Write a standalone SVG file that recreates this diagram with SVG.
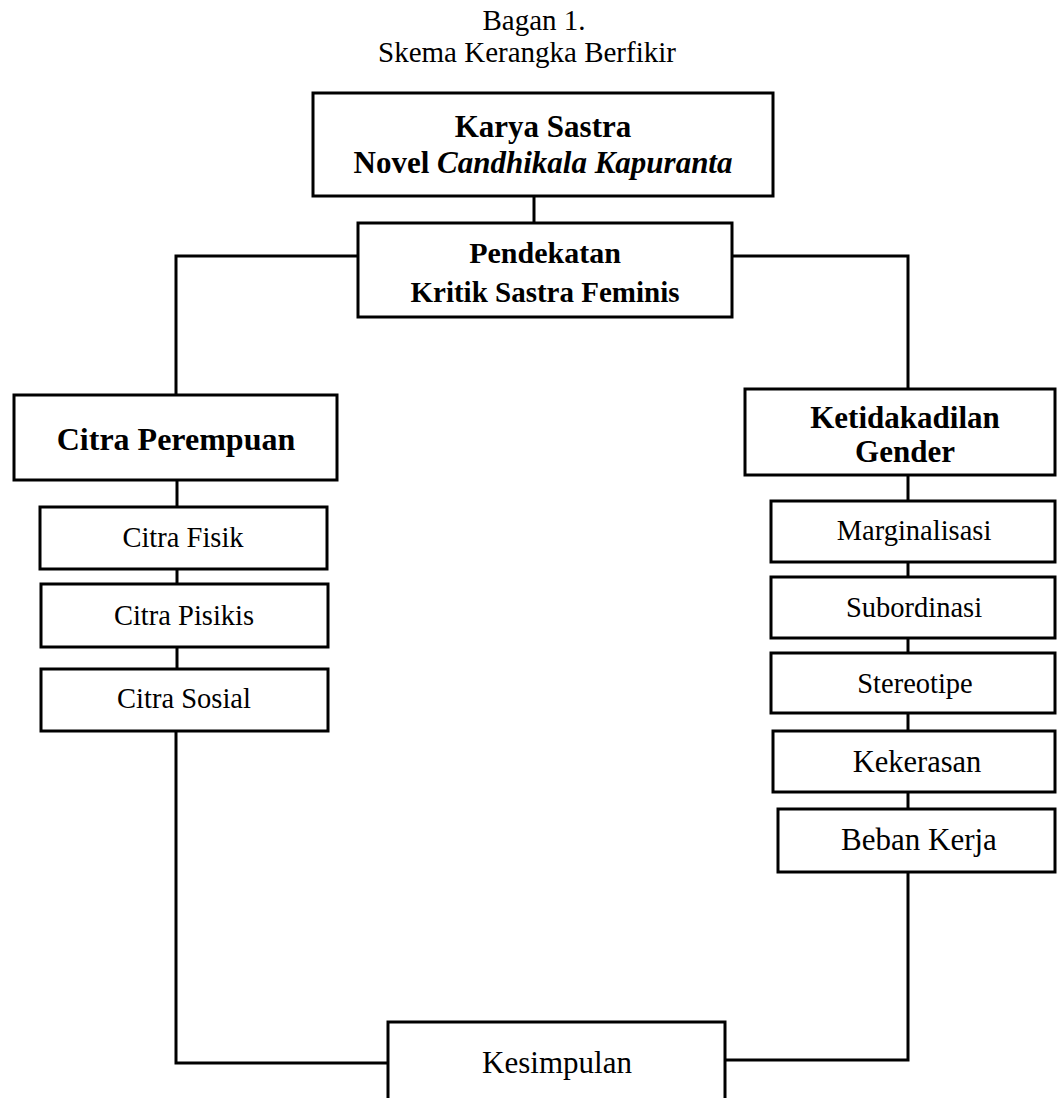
<svg xmlns="http://www.w3.org/2000/svg" width="1057" height="1098" viewBox="0 0 1057 1098">
<style>
.box{fill:#fff;stroke:#000;stroke-width:3}
.con{fill:none;stroke:#000;stroke-width:3}
text{font-family:"Liberation Serif","Times New Roman",serif;fill:#000;text-anchor:middle}
.b{font-weight:bold}
.t{font-size:29px}
.r{font-size:28.5px}
</style>
<rect width="1057" height="1098" fill="#fff"/>
<g id="title">
<text class="t" x="534" y="30">Bagan 1.</text>
<text class="t" x="527" y="62">Skema Kerangka Berfikir</text>
</g>
<g id="connectors">
<line class="con" x1="534" y1="196" x2="534" y2="223"/>
<polyline class="con" points="358,256 176,256 176,394"/>
<polyline class="con" points="732,256 908,256 908,389"/>
<line class="con" x1="177" y1="480" x2="177" y2="507"/>
<line class="con" x1="177" y1="569" x2="177" y2="584"/>
<line class="con" x1="177" y1="647" x2="177" y2="669"/>
<polyline class="con" points="176,731 176,1063 388,1063"/>
<line class="con" x1="908" y1="475" x2="908" y2="501"/>
<line class="con" x1="908" y1="562" x2="908" y2="577"/>
<line class="con" x1="908" y1="638" x2="908" y2="653"/>
<line class="con" x1="908" y1="713" x2="908" y2="731"/>
<line class="con" x1="908" y1="792" x2="908" y2="809"/>
<polyline class="con" points="908,872 908,1060 725,1060"/>
</g>
<g id="karya-sastra">
<rect class="box" x="313" y="93" width="460" height="103"/>
<text class="b" x="543" y="137" font-size="31">Karya Sastra</text>
<text class="b" x="543" y="173" font-size="31">Novel <tspan font-style="italic">Candhikala Kapuranta</tspan></text>
</g>
<g id="pendekatan">
<rect class="box" x="358" y="223" width="374" height="94"/>
<text class="b" x="545" y="263" font-size="30">Pendekatan</text>
<text class="b" x="545" y="302" font-size="29">Kritik Sastra Feminis</text>
</g>
<g id="citra-perempuan">
<rect class="box" x="14" y="395" width="323" height="85"/>
<text class="b" x="176" y="450" font-size="32">Citra Perempuan</text>
</g>
<g id="citra-fisik">
<rect class="box" x="40" y="507" width="287" height="62"/>
<text class="r" x="183" y="547">Citra Fisik</text>
</g>
<g id="citra-pisikis">
<rect class="box" x="41" y="584" width="287" height="63"/>
<text class="r" x="184" y="625">Citra Pisikis</text>
</g>
<g id="citra-sosial">
<rect class="box" x="41" y="669" width="287" height="62"/>
<text class="r" x="184" y="708">Citra Sosial</text>
</g>
<g id="ketidakadilan-gender">
<rect class="box" x="745" y="389" width="310" height="86"/>
<text class="b" x="905" y="428" font-size="31">Ketidakadilan</text>
<text class="b" x="905" y="462" font-size="31">Gender</text>
</g>
<g id="marginalisasi">
<rect class="box" x="771" y="501" width="284" height="61"/>
<text class="r" x="914" y="540">Marginalisasi</text>
</g>
<g id="subordinasi">
<rect class="box" x="771" y="577" width="284" height="61"/>
<text class="r" x="914" y="617">Subordinasi</text>
</g>
<g id="stereotipe">
<rect class="box" x="771" y="653" width="284" height="60"/>
<text class="r" x="915" y="693">Stereotipe</text>
</g>
<g id="kekerasan">
<rect class="box" x="773" y="731" width="282" height="61"/>
<text x="917" y="772" font-size="30.5">Kekerasan</text>
</g>
<g id="beban-kerja">
<rect class="box" x="778" y="809" width="277" height="63"/>
<text x="919" y="850" font-size="31">Beban Kerja</text>
</g>
<g id="kesimpulan">
<rect class="box" x="388" y="1022" width="337" height="90"/>
<text x="557" y="1073" font-size="31">Kesimpulan</text>
</g>
</svg>
